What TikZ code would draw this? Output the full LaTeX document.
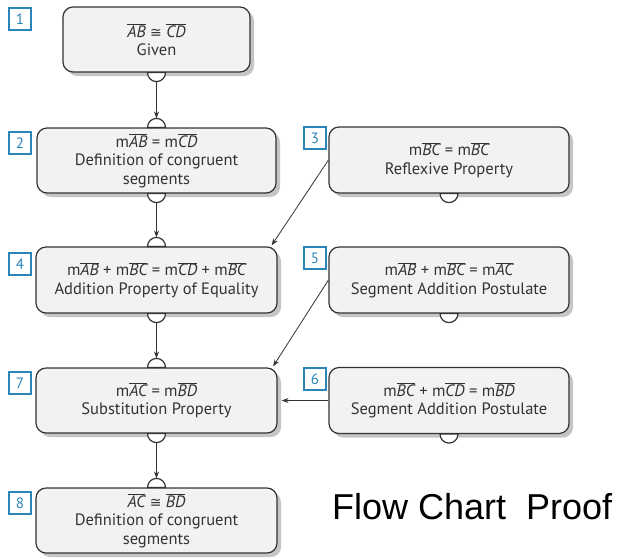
\documentclass[tikz,border=0pt]{standalone}
\usepackage{fontspec}
\setmainfont{PT Sans}
\newfontfamily\titlefont{Liberation Sans}
\newfontfamily\symfont{DejaVu Sans}
\usetikzlibrary{shadows,calc,arrows.meta}
\definecolor{boxfill}{HTML}{F2F2F2}
\definecolor{edge}{HTML}{333333}
\definecolor{labelblue}{HTML}{2A86B8}
\newcommand{\segm}[1]{$\overline{\mbox{\itshape #1}}$}
\newcommand{\congsym}{{\symfont\fontsize{14}{14}\selectfont ≅}}
\begin{document}
\begin{tikzpicture}[x=1pt,y=-1pt,
  stepbox/.style={draw=edge, line width=1.2pt, fill=boxfill, rounded corners=10pt,
    align=center, text=edge, font=\fontsize{16.5}{18.5}\selectfont, inner sep=0pt,
    drop shadow={shadow xshift=4pt, shadow yshift=-4pt, fill=black!45}},
  numlabel/.style={draw=labelblue, line width=1.2pt, text=labelblue, minimum size=22pt,
    inner sep=0pt, font=\fontsize{15}{15}\selectfont, fill=white},
  link/.style={draw=edge, line width=0.8pt, -{Stealth[length=7pt,width=5pt]}},
  knob/.style={draw=edge, line width=1.2pt, fill=white}]
\useasboundingbox (0,0) rectangle (623,558);

\node[stepbox, minimum width=187pt, minimum height=65pt] (b1) at (156.5,39.5)
  {\segm{AB} \congsym{} \segm{CD}\\Given};
\node[stepbox, minimum width=239pt, minimum height=65pt] (b2) at (156.5,160.5)
  {m\segm{AB} = m\segm{CD}\\Definition of congruent\\segments};
\node[stepbox, minimum width=240pt, minimum height=66pt] (b3) at (449,160)
  {m\segm{BC} = m\segm{BC}\\Reflexive Property};
\node[stepbox, minimum width=241pt, minimum height=66pt] (b4) at (156.5,280)
  {m\segm{AB} + m\segm{BC} = m\segm{CD} + m\segm{BC}\\Addition Property of Equality};
\node[stepbox, minimum width=240pt, minimum height=66pt] (b5) at (449,280)
  {m\segm{AB} + m\segm{BC} = m\segm{AC}\\Segment Addition Postulate};
\node[stepbox, minimum width=240pt, minimum height=66pt] (b6) at (449,400.5)
  {m\segm{BC} + m\segm{CD} = m\segm{BD}\\Segment Addition Postulate};
\node[stepbox, minimum width=241pt, minimum height=65pt] (b7) at (156.5,400.5)
  {m\segm{AC} = m\segm{BD}\\Substitution Property};
\node[stepbox, minimum width=241pt, minimum height=65pt] (b8) at (156.5,520.5)
  {\segm{AC} \congsym{} \segm{BD}\\Definition of congruent\\segments};

\foreach \b in {b1,b2,b4,b7,b3,b5,b6}
  \draw[knob] ($(\b.south)+(-9pt,0pt)$) arc[start angle=180,end angle=360,radius=9pt] -- cycle;
\foreach \b in {b2,b4,b7,b8}
  \draw[knob] ($(\b.north)+(-9pt,0pt)$) arc[start angle=180,end angle=0,radius=9pt] -- cycle;

\foreach \b in {b1,b2,b4,b7}
  \coordinate (\b k) at ($(\b.south)+(0pt,-9pt)$);
\foreach \b in {b2,b4,b7,b8}
  \coordinate (\b t) at ($(\b.north)+(0pt,9pt)$);
\coordinate (e34) at ($(b4.north east)+(-6pt,1pt)$);
\coordinate (e57) at ($(b7.north east)+(-4.5pt,1pt)$);
\coordinate (e67) at ($(b7.east)+(4pt,0pt)$);

\draw[link] (b1k) -- (b2t);
\draw[link] (b2k) -- (b4t);
\draw[link] (b4k) -- (b7t);
\draw[link] (b7k) -- (b8t);
\draw[link] (b3.west) -- (e34);
\draw[link] (b5.west) -- (e57);
\draw[link] (b6.west) -- (e67);

\node[numlabel] (n1) at (20,19) {1};
\node[numlabel] (n2) at (20,143) {2};
\node[numlabel] (n3) at (315,138) {3};
\node[numlabel] (n4) at (20,264) {4};
\node[numlabel] (n5) at (315,258) {5};
\node[numlabel] (n6) at (315,379) {6};
\node[numlabel] (n7) at (20,383) {7};
\node[numlabel] (n8) at (20,503) {8};

\node[anchor=base west, font=\titlefont\fontsize{36}{36}\selectfont, text=black, inner sep=0pt]
  (title) at (332,519) {Flow Chart\ \ Proof};
\end{tikzpicture}
\end{document}
